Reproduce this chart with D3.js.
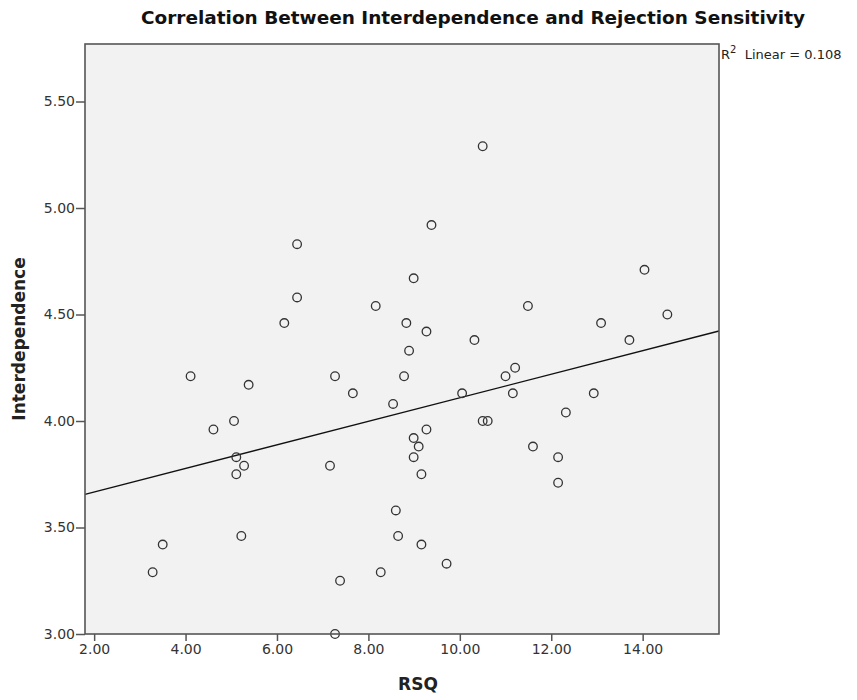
<!DOCTYPE html>
<html>
<head>
<meta charset="utf-8">
<script src="https://cdn.jsdelivr.net/npm/d3@7"></script>
<style>
  body { margin: 0; background: #fff; }
  text { font-family: "DejaVu Sans", sans-serif; }
</style>
</head>
<body>
<svg id="chart" width="857" height="700"></svg>
<script>
// RSQ (x) and Interdependence (y)
const rsq = [6.44, 6.44, 6.16, 8.16,
  10.50, 9.38, 8.99, 8.83, 9.27, 8.89, 10.32, 11.49, 13.09, 14.04, 14.54, 13.71,
  4.11, 5.38, 7.27, 7.66, 8.54, 4.61, 5.06, 5.11, 5.28, 5.11, 7.16, 3.50, 3.28, 5.22, 8.60, 8.65, 8.27, 7.38, 7.27,
  8.78, 10.05, 11.00, 11.21, 11.16, 12.93, 12.32, 10.50, 10.61, 9.27, 8.99, 9.10, 8.99, 9.16, 11.60, 12.15, 12.15, 9.16, 9.71]
const interdep = [4.83, 4.58, 4.46, 4.54,
  5.29, 4.92, 4.67, 4.46, 4.42, 4.33, 4.38, 4.54, 4.46, 4.71, 4.50, 4.38,
  4.21, 4.17, 4.21, 4.13, 4.08, 3.96, 4.00, 3.83, 3.79, 3.75, 3.79, 3.42, 3.29, 3.46, 3.58, 3.46, 3.29, 3.25, 3.00,
  4.21, 4.13, 4.21, 4.25, 4.13, 4.13, 4.04, 4.00, 4.00, 3.96, 3.92, 3.88, 3.83, 3.75, 3.88, 3.83, 3.71, 3.42, 3.33]

const xTicks = [2, 4, 6, 8, 10, 12, 14]
const yTicks = [3.0, 3.5, 4.0, 4.5, 5.0, 5.5]

// fit line
const fitIntercept = 3.556
const fitSlope = 0.0553
const r2Label = '0.108'

const points = rsq.map((v, i) => ({x: v, y: interdep[i]}))

const svg = d3.select('#chart')
const plot = {left: 85, right: 719, top: 44, bottom: 634}

const x = d3.scaleLinear().domain([1.8, 15.67]).range([plot.left, plot.right])
const y = d3.scaleLinear().domain([3.0, 5.77]).range([plot.bottom, plot.top])

svg.append('text')
  .attr('x', 473).attr('y', 24)
  .attr('text-anchor', 'middle')
  .attr('font-size', 18).attr('font-weight', 'bold')
  .attr('font-family', '"DejaVu Sans Condensed", "DejaVu Sans", sans-serif')
  .attr('fill', '#111')
  .attr('textLength', 664).attr('lengthAdjust', 'spacingAndGlyphs')
  .text('Correlation Between Interdependence and Rejection Sensitivity')

svg.append('rect')
  .attr('x', plot.left).attr('y', plot.top)
  .attr('width', plot.right - plot.left).attr('height', plot.bottom - plot.top)
  .attr('fill', '#f2f2f2')

// axes
const xAxis = svg.append('g')
  .attr('transform', `translate(0,${plot.bottom})`)
  .call(d3.axisBottom(x).tickValues(xTicks).tickFormat(d3.format('.2f')).tickSize(7).tickSizeOuter(0))
const yAxis = svg.append('g')
  .attr('transform', `translate(${plot.left},0)`)
  .call(d3.axisLeft(y).tickValues(yTicks).tickFormat(d3.format('.2f')).tickSize(9).tickSizeOuter(0))

for (const g of [xAxis, yAxis]) {
  g.select('.domain').remove()
  g.selectAll('.tick line').attr('stroke', '#555').attr('stroke-width', 1.5)
  g.selectAll('.tick text').attr('font-size', 14).attr('fill', '#333')
    .attr('font-family', '"DejaVu Sans", sans-serif')
}
yAxis.selectAll('.tick text').attr('x', -10)
xAxis.selectAll('.tick text').attr('y', 10)

// fit line
const fitX = x.domain()
svg.append('line')
  .attr('x1', x(fitX[0])).attr('y1', y(fitIntercept + fitSlope * fitX[0]))
  .attr('x2', x(fitX[1])).attr('y2', y(fitIntercept + fitSlope * fitX[1]))
  .attr('stroke', '#111').attr('stroke-width', 1.4)

svg.selectAll('circle.pt')
  .data(points)
  .enter().append('circle')
  .attr('class', 'pt')
  .attr('cx', d => x(d.x)).attr('cy', d => y(d.y))
  .attr('r', 4.3)
  .attr('fill', 'none')
  .attr('stroke', '#333').attr('stroke-width', 1.3)

// frame
svg.append('rect')
  .attr('x', plot.left).attr('y', plot.top)
  .attr('width', plot.right - plot.left).attr('height', plot.bottom - plot.top)
  .attr('fill', 'none').attr('stroke', '#555').attr('stroke-width', 1.6)

// R2 label
const r2 = svg.append('text')
  .attr('x', plot.right + 2).attr('y', 59)
  .attr('font-size', 13).attr('fill', '#222')
  .style('white-space', 'pre')
r2.append('tspan').text('R')
r2.append('tspan').attr('dy', -6).attr('font-size', 10).text('2')
r2.append('tspan').attr('dy', 6).text('  Linear = ' + r2Label)

svg.append('text')
  .attr('x', (plot.left + plot.right) / 2 + 16).attr('y', 690)
  .attr('text-anchor', 'middle')
  .attr('font-size', 17).attr('font-weight', 'bold').attr('fill', '#222')
  .attr('font-family', '"DejaVu Sans Condensed", "DejaVu Sans", sans-serif')
  .text('RSQ')

svg.append('text')
  .attr('transform', `translate(25,${(plot.top + plot.bottom) / 2}) rotate(-90)`)
  .attr('text-anchor', 'middle')
  .attr('font-size', 17).attr('font-weight', 'bold').attr('fill', '#222')
  .attr('font-family', '"DejaVu Sans Condensed", "DejaVu Sans", sans-serif')
  .text('Interdependence')
</script>
</body>
</html>
